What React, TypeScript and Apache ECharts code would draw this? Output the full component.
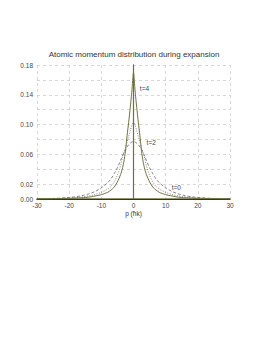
import React, { useEffect, useRef } from "react";
import * as echarts from "echarts";

const P = [-30, -25, -20, -18, -16, -14, -12, -10, -8, -7, -6, -5, -4, -3.5, -3, -2.5, -2, -1.5, -1, -0.5, 0,
  0.5, 1, 1.5, 2, 2.5, 3, 3.5, 4, 5, 6, 7, 8, 10, 12, 14, 16, 18, 20, 25, 30];

const T4 = [0.0002, 0.0004, 0.0009, 0.0012, 0.0017, 0.0024, 0.004, 0.0058, 0.009, 0.012, 0.016, 0.023, 0.033, 0.04, 0.05, 0.064, 0.085, 0.103, 0.123, 0.145, 0.170,
  0.145, 0.123, 0.103, 0.085, 0.064, 0.05, 0.04, 0.033, 0.023, 0.016, 0.012, 0.009, 0.0058, 0.004, 0.0024, 0.0017, 0.0012, 0.0009, 0.0004, 0.0002];

const T2 = [0.0002, 0.0005, 0.0012, 0.0018, 0.0027, 0.004, 0.006, 0.009, 0.0135, 0.017, 0.023, 0.032, 0.045, 0.055, 0.062, 0.069, 0.076, 0.084, 0.092, 0.099, 0.104,
  0.099, 0.092, 0.084, 0.076, 0.069, 0.062, 0.055, 0.045, 0.032, 0.023, 0.017, 0.0135, 0.009, 0.006, 0.004, 0.0027, 0.0018, 0.0012, 0.0005, 0.0002];

const T0 = [0.0002, 0.0007, 0.002, 0.003, 0.0045, 0.0068, 0.010, 0.015, 0.022, 0.027, 0.034, 0.042, 0.052, 0.057, 0.062, 0.066, 0.070, 0.073, 0.075, 0.0765, 0.077,
  0.0765, 0.075, 0.073, 0.070, 0.066, 0.062, 0.057, 0.052, 0.042, 0.034, 0.027, 0.022, 0.015, 0.010, 0.0068, 0.0045, 0.003, 0.002, 0.0007, 0.0002];

const Y_LABELS = [0, 2, 6, 10, 14, 18]; // in hundredths
const TITLE = "Atomic momentum distribution during expansion";
const X_NAME = "p (ħk)";

const LABELS = [
  { text: "t=4", p: 3.4, v: 0.148 },
  { text: "t=2", p: 5.5, v: 0.076 },
  { text: "t=0", p: 13.3, v: 0.0148 },
];

const OLIVE = "#6f7040";
const FONT = "Liberation Sans";

export default function App() {
  const ref = useRef<HTMLDivElement>(null);
  useEffect(() => {
    if (!ref.current) return;
    const chart = echarts.init(ref.current, undefined, { renderer: "svg" });
    const mk = (arr: number[]) => P.map((p, i) => [p, arr[i]]);
    chart.setOption({
      animation: false,
      backgroundColor: "#fff",
      title: {
        text: TITLE,
        left: "center",
        top: 45,
        textStyle: { fontFamily: FONT, fontSize: 8, fontWeight: "normal", color: "#333" },
      },
      grid: { left: 37, right: 38, top: 65, bottom: 147 },
      xAxis: [
        {
          type: "value",
          min: -30,
          max: 30,
          interval: 10,
          name: X_NAME,
          nameLocation: "middle",
          nameGap: 11,
          nameTextStyle: { fontFamily: FONT, fontSize: 6.5, color: "#333" },
          axisLine: { show: true, onZero: false, lineStyle: { color: OLIVE, width: 1.5 } },
          axisTick: { show: false },
          axisLabel: { fontFamily: FONT, fontSize: 6.5, color: "#444", margin: 3 },
          splitLine: { show: true, lineStyle: { color: "#c4c4c4", type: [3, 3], width: 0.7 } },
        },
        {
          type: "value",
          position: "top",
          min: -30,
          max: 30,
          axisLine: { show: true, lineStyle: { color: "#333", width: 1 } },
          axisTick: { show: false },
          axisLabel: { show: false },
          splitLine: { show: false },
        },
      ],
      yAxis: [
        {
          type: "value",
          min: 0,
          max: 0.18,
          interval: 0.02,
          axisLine: { show: true, lineStyle: { color: "#333", width: 1 } },
          axisTick: { show: false },
          axisLabel: {
            fontFamily: FONT,
            fontSize: 6.5,
            color: "#444",
            margin: 4,
            formatter: (v: number) => (Y_LABELS.includes(Math.round(v * 100)) ? v.toFixed(2) : ""),
          },
          splitLine: { show: true, lineStyle: { color: "#c4c4c4", type: [3, 3], width: 0.7 } },
        },
        {
          type: "value",
          position: "right",
          min: 0,
          max: 0.18,
          axisLine: { show: true, lineStyle: { color: OLIVE, width: 1.2 } },
          axisTick: { show: false },
          axisLabel: { show: false },
          splitLine: { show: false },
        },
      ],
      series: [
        {
          type: "line",
          name: "t=0",
          data: mk(T0),
          showSymbol: false,
          smooth: 0.3,
          lineStyle: { color: "#666", width: 0.8, type: [3, 2] },
        },
        {
          type: "line",
          name: "t=2",
          data: mk(T2),
          showSymbol: false,
          smooth: 0.3,
          lineStyle: { color: "#666", width: 0.8, type: [1, 1.5] },
        },
        {
          type: "line",
          name: "t=4",
          data: mk(T4),
          showSymbol: false,
          smooth: 0.2,
          lineStyle: { color: OLIVE, width: 1 },
          markPoint: {
            symbol: "circle",
            symbolSize: 0,
            data: LABELS.map((l) => ({
              coord: [l.p, l.v],
              label: {
                show: true,
                formatter: l.text,
                position: "inside",
                fontFamily: FONT,
                fontSize: 6.5,
                color: "#444",
              },
            })),
          },
        },
      ],
    });
    return () => chart.dispose();
  }, []);
  return <div ref={ref} style={{ width: 268, height: 346, margin: -8 }} />;
}
